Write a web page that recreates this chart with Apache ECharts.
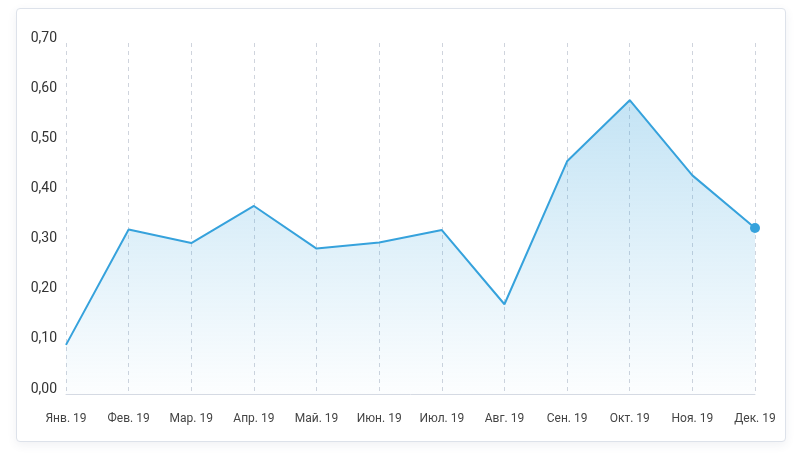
<!DOCTYPE html>
<html>
<head>
<meta charset="utf-8">
<script src="https://cdn.jsdelivr.net/npm/echarts@6/dist/echarts.min.js"></script>
<style>
html,body{margin:0;padding:0;background:#fff;width:802px;height:467px;overflow:hidden;}
#card{position:absolute;left:16px;top:8px;width:768px;height:432px;border:1px solid #dde2ea;border-radius:4px;box-shadow:0 3px 10px rgba(60,80,120,0.08);background:#fff;}
#chart{position:absolute;left:0;top:0;width:802px;height:467px;}
</style>
</head>
<body>
<div id="card"></div>
<div id="chart"></div>
<script>
const categories = ['Янв. 19','Фев. 19','Мар. 19','Апр. 19','Май. 19','Июн. 19','Июл. 19','Авг. 19','Сен. 19','Окт. 19','Ноя. 19','Дек. 19'];
const values = [0.098, 0.328, 0.301, 0.375, 0.290, 0.302, 0.327, 0.179, 0.464, 0.586, 0.436, 0.331];
const yTicks = [0, 0.1, 0.2, 0.3, 0.4, 0.5, 0.6, 0.7];

const chart = echarts.init(document.getElementById('chart'), null, {renderer:'canvas'});
chart.setOption({
  animation:false,
  backgroundColor:'transparent',
  grid:{left:66,right:47,top:43,bottom:73,containLabel:false},
  xAxis:{
    type:'category',
    data:categories,
    boundaryGap:false,
    axisLine:{show:true,lineStyle:{color:'#d5dae3',width:1}},
    axisTick:{show:false},
    axisLabel:{color:'#444',fontSize:12,fontFamily:'Roboto',margin:19,interval:0},
    splitLine:{show:true,lineStyle:{color:'#cfd4dd',type:[4,4],width:1}}
  },
  yAxis:{
    type:'value',
    min:yTicks[0],
    max:yTicks[yTicks.length-1],
    interval:0.1,
    axisLine:{show:false},
    axisTick:{show:false},
    splitLine:{show:false},
    axisLabel:{
      color:'#333',fontSize:14,fontFamily:'Roboto',margin:9,
      verticalAlign:'middle',
      formatter:function(v){return '{v|' + v.toFixed(2).replace('.',',') + '}';},
      rich:{v:{color:'#333',fontSize:14,fontFamily:'Roboto',padding:[0,0,10,0]}}
    }
  },
  series:[{
    type:'line',
    data:values,
    symbol:'circle',
    symbolSize:function(v,p){return p.dataIndex===values.length-1?10:0;},
    showSymbol:true,
    itemStyle:{color:'#36a2dc'},
    lineStyle:{color:'#36a2dc',width:2},
    areaStyle:{
      color:new echarts.graphic.LinearGradient(0,0,0,1,[
        {offset:0,color:'rgba(54,162,220,0.42)'},
        {offset:0.5,color:'rgba(54,162,220,0.22)'},
        {offset:1,color:'rgba(54,162,220,0.02)'}
      ])
    }
  }]
});
</script>
</body>
</html>
